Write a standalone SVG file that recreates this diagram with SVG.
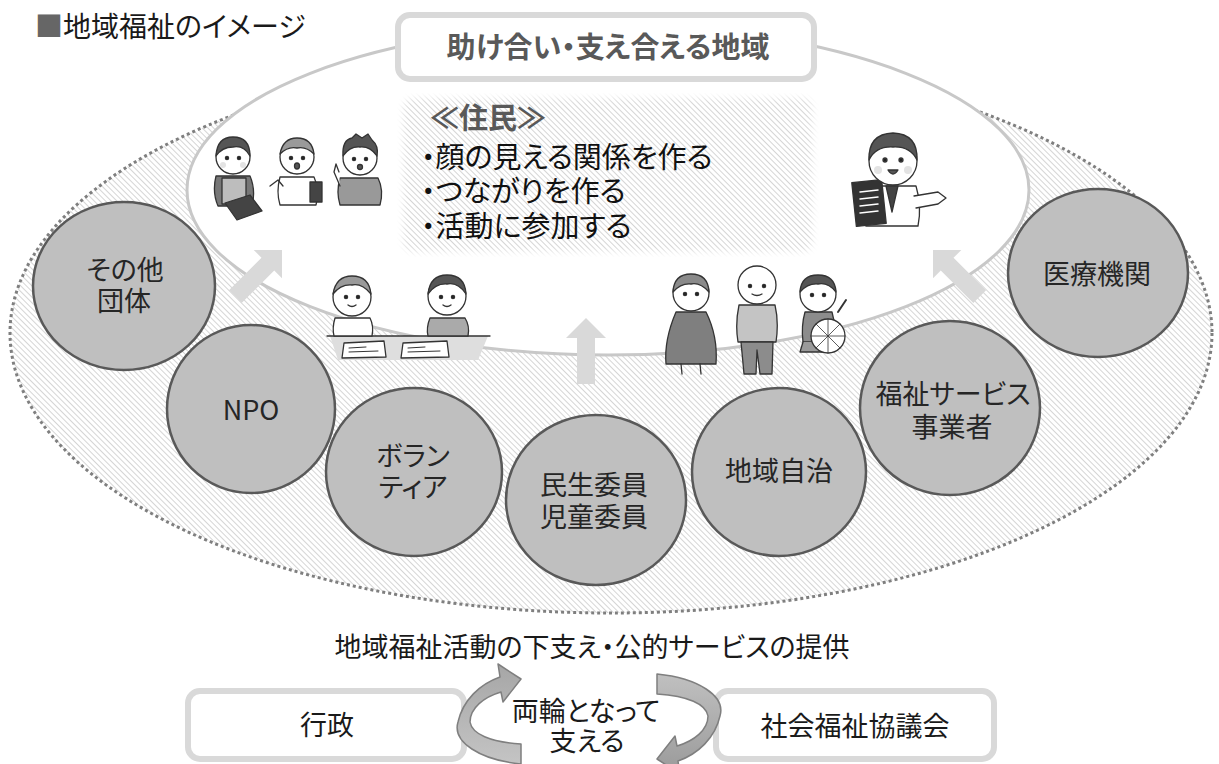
<svg xmlns="http://www.w3.org/2000/svg" width="1219" height="764" viewBox="0 0 1219 764">
  <defs>
    <style>
      text { font-family: "Noto Sans CJK JP", "Noto Sans", sans-serif; font-feature-settings: "palt"; }
      .circ { fill: #bfbfbf; stroke: #595959; stroke-width: 2.5; }
      .ctext { font-size: 27px; fill: #262626; text-anchor: middle; }
      .box { fill: #ffffff; stroke: #d9d9d9; stroke-width: 6; }
      .btext { font-size: 27px; fill: #1a1a1a; text-anchor: middle; }
      .rtext { font-size: 29px; fill: #111111; }
      .up { fill: #d9d9d9; }
      .ink { stroke: #333333; stroke-width: 1.3; stroke-linejoin: round; stroke-linecap: round; }
      .skin { fill: #ffffff; }
      .hair { fill: #555555; }
      .cheek { fill: #e3e3e3; }
      .eye { fill: #222222; }
    </style>
    <pattern id="hatch" patternUnits="userSpaceOnUse" width="4" height="4" patternTransform="rotate(-45)">
      <rect width="4" height="4" fill="#ffffff"/>
      <line x1="0" y1="0" x2="0" y2="4" stroke="#c4c4c4" stroke-width="1.4"/>
    </pattern>
    <filter id="soft" x="-10%" y="-10%" width="120%" height="120%">
      <feGaussianBlur stdDeviation="3"/>
    </filter>
    <mask id="softEdge">
      <rect x="403" y="98" width="410" height="154" rx="10" fill="#ffffff" filter="url(#soft)"/>
    </mask>
    <linearGradient id="ringL" x1="0" y1="0" x2="0" y2="1">
      <stop offset="0" stop-color="#a6a6a6"/>
      <stop offset="1" stop-color="#c4c4c4"/>
    </linearGradient>
    <linearGradient id="ringR" x1="0" y1="0" x2="0" y2="1">
      <stop offset="0" stop-color="#9a9a9a"/>
      <stop offset="1" stop-color="#c0c0c0"/>
    </linearGradient>
    <polygon id="blockArrow" points="0,0 20,20 9,20 9,66 -9,66 -9,20 -20,20"/>
  </defs>

  <rect width="1219" height="764" fill="#ffffff"/>

  <!-- title -->
  <text x="35" y="37" font-size="28" fill="#1a1a1a"><tspan fill="#666666">■</tspan>地域福祉のイメージ</text>

  <!-- outer community area (hatched, dotted rim) -->
  <g id="community">
    <ellipse cx="611" cy="333" rx="601" ry="280" fill="url(#hatch)" stroke="#7f7f7f" stroke-width="3" stroke-dasharray="3 3"/>
  </g>

  <!-- inner residents area -->
  <g id="residents">
    <ellipse cx="608" cy="190" rx="421" ry="165" fill="#ffffff" stroke="#c8c8c8" stroke-width="3"/>
    <rect x="397" y="93" width="422" height="164" fill="url(#hatch)" mask="url(#softEdge)"/>
    <text x="430" y="129" font-size="29" font-weight="bold" fill="#595959">≪住民≫</text>
    <text class="rtext" x="421" y="168">・顔の見える関係を作る</text>
    <text class="rtext" x="421" y="202">・つながりを作る</text>
    <text class="rtext" x="421" y="237">・活動に参加する</text>
  </g>

  <!-- headline box -->
  <g id="headline">
    <rect class="box" x="398" y="15" width="416" height="64" rx="12"/>
    <text x="608" y="58" font-size="29" font-weight="bold" fill="#595959" text-anchor="middle">助け合い・支え合える地域</text>
  </g>

  <!-- illustrations -->
  <g id="illustrations" class="ink">
    <!-- staff trio, upper left -->
    <g id="trio">
      <path d="M216 176 Q212 192 218 206 L252 206 Q256 190 250 176 Z" fill="#777777"/>
      <rect x="222" y="178" width="24" height="26" fill="#bdbdbd"/>
      <circle cx="233" cy="157" r="17" class="skin"/>
      <path d="M216 156 Q217 137 233 137 Q250 137 250 156 Q244 145 233 147 Q222 147 216 156 Z" class="hair"/>
      <circle cx="227" cy="158" r="1.6" class="eye"/><circle cx="239" cy="158" r="1.6" class="eye"/>
      <circle cx="223" cy="165" r="3" class="cheek" stroke="none"/><circle cx="243" cy="165" r="3" class="cheek" stroke="none"/>
      <path d="M225 203 L250 195 L262 211 L237 220 Z" fill="#444444"/>

      <path d="M280 177 Q276 192 280 205 L316 205 Q320 190 314 177 Z" fill="#ffffff"/>
      <circle cx="297" cy="157" r="17" class="skin"/>
      <path d="M280 154 Q283 138 297 138 Q312 138 314 154 Q306 146 297 148 Q288 146 280 154 Z" fill="#9a9a9a"/>
      <circle cx="291" cy="158" r="1.6" class="eye"/><circle cx="303" cy="158" r="1.6" class="eye"/>
      <ellipse cx="297" cy="166" rx="2.5" ry="3" fill="#555555"/>
      <rect x="310" y="182" width="12" height="20" fill="#444444"/>
      <path d="M270 186 L278 180 L283 186" fill="none"/>

      <path d="M340 178 Q336 192 340 205 L380 205 Q384 190 378 178 Z" fill="#999999"/>
      <circle cx="360" cy="158" r="17" class="skin"/>
      <path d="M343 156 Q342 140 352 138 L356 134 L362 138 L368 134 L372 140 Q379 146 377 156 Q370 146 360 147 Q350 146 343 156 Z" class="hair"/>
      <circle cx="354" cy="159" r="1.6" class="eye"/><circle cx="366" cy="159" r="1.6" class="eye"/>
      <ellipse cx="360" cy="167" rx="2.5" ry="2.5" fill="#555555"/>
      <path d="M340 186 L334 172 L336 164 L339 172" fill="#ffffff"/>
    </g>

    <!-- children at a table -->
    <g id="table">
      <path d="M330 336 L488 336 L478 360 L338 360 Z" fill="#dedede" stroke="none"/>
      <line x1="327" y1="336" x2="490" y2="336"/>
      <path d="M335 318 Q332 328 334 336 L372 336 Q374 326 370 318 Z" fill="#ffffff"/>
      <circle cx="352" cy="297" r="19" class="skin"/>
      <path d="M333 294 Q336 276 352 276 Q369 276 371 294 Q362 283 352 285 Q341 284 333 294 Z" fill="#9a9a9a"/>
      <circle cx="346" cy="297" r="1.6" class="eye"/><circle cx="358" cy="297" r="1.6" class="eye"/>
      <path d="M348 305 Q352 308 356 305" fill="none"/>
      <path d="M430 318 Q426 328 428 336 L468 336 Q470 326 465 318 Z" fill="#aaaaaa"/>
      <circle cx="447" cy="296" r="19" class="skin"/>
      <path d="M428 294 Q430 275 447 275 Q465 275 466 294 Q458 282 447 284 Q436 283 428 294 Z" class="hair"/>
      <circle cx="441" cy="297" r="1.6" class="eye"/><circle cx="453" cy="297" r="1.6" class="eye"/>
      <path d="M443 305 Q447 308 451 305" fill="none"/>
      <path d="M344 343 L384 341 L386 357 L342 358 Z" fill="#ffffff"/>
      <path d="M403 343 L447 341 L449 357 L401 358 Z" fill="#ffffff"/>
      <path d="M349 348 L366 347 M349 352 L378 351 M408 348 L425 347 M408 352 L440 351" fill="none" stroke-width="1"/>
    </g>

    <!-- residents group, lower right -->
    <g id="people">
      <path d="M676 312 Q664 340 666 364 L716 364 Q718 336 706 312 Z" fill="#7f7f7f"/>
      <path d="M681 364 L682 374 M700 364 L701 374" fill="none"/>
      <circle cx="691" cy="293" r="18" class="skin"/>
      <path d="M673 292 Q674 274 691 274 Q708 274 709 292 Q700 282 691 284 Q681 283 673 292 Z" fill="#8a8a8a"/>
      <circle cx="685" cy="294" r="1.6" class="eye"/><circle cx="697" cy="294" r="1.6" class="eye"/>

      <path d="M739 305 Q735 324 738 342 L776 342 Q779 322 775 305 Z" fill="#c4c4c4"/>
      <path d="M741 342 L744 374 L756 374 L757 350 L760 374 L772 374 L773 342 Z" fill="#8c8c8c"/>
      <circle cx="757" cy="285" r="19" class="skin"/>
      <circle cx="750" cy="286" r="1.6" class="eye"/><circle cx="764" cy="286" r="1.6" class="eye"/>
      <path d="M752 294 Q757 297 762 294" fill="none"/>

      <path d="M805 312 Q801 326 803 342 L834 342 Q836 326 832 312 Z" fill="#8c8c8c"/>
      <path d="M803 342 L800 352 L823 352 L826 342" fill="#9a9a9a"/>
      <circle cx="828" cy="336" r="17" fill="#ffffff"/>
      <path d="M828 319 L828 353 M811 336 L845 336 M816 324 L840 348 M840 324 L816 348" fill="none" stroke-width="0.8"/>
      <path d="M838 312 L846 300" fill="none" stroke-width="2"/>
      <circle cx="818" cy="294" r="18" class="skin"/>
      <path d="M800 292 Q801 275 818 275 Q835 275 836 292 Q828 282 818 284 Q808 283 800 292 Z" class="hair"/>
      <circle cx="812" cy="295" r="1.6" class="eye"/><circle cx="824" cy="295" r="1.6" class="eye"/>
    </g>

    <!-- doctor, upper right -->
    <g id="doctor">
      <path d="M868 186 Q862 206 866 226 L918 226 Q922 206 916 186 Z" fill="#ffffff"/>
      <path d="M886 186 L892 212 L898 186 Z" fill="#444444"/>
      <path d="M914 196 L938 192 L946 198 L938 204 L916 208" fill="#ffffff"/>
      <rect x="854" y="181" width="30" height="44" fill="#333333" transform="rotate(-6 869 203)"/>
      <path d="M860 192 L878 190 M860 199 L878 197 M860 206 L878 204 M860 213 L878 211" fill="none" stroke="#ffffff" stroke-width="1.5"/>
      <circle cx="893" cy="161" r="24" class="skin"/>
      <path d="M869 160 Q868 134 893 133 Q918 134 917 160 Q910 146 893 147 Q876 146 869 160 Z" class="hair"/>
      <circle cx="885" cy="160" r="2" class="eye"/><circle cx="901" cy="160" r="2" class="eye"/>
      <circle cx="878" cy="170" r="4" class="cheek" stroke="none"/><circle cx="908" cy="170" r="4" class="cheek" stroke="none"/>
      <path d="M888 170 Q893 178 898 170 Z" fill="#555555"/>
    </g>
  </g>

  <!-- arrows from the groups into the residents area -->
  <g id="connectors">
    <use href="#blockArrow" class="up" transform="translate(282 250) rotate(45)"/>
    <use href="#blockArrow" class="up" transform="translate(586 318)"/>
    <use href="#blockArrow" class="up" transform="translate(933 250) rotate(-45)"/>
  </g>

  <!-- participating groups -->
  <g id="other-groups">
    <ellipse class="circ" cx="124" cy="286" rx="91" ry="84"/>
    <text class="ctext" x="125" y="280">その他</text>
    <text class="ctext" x="124" y="311">団体</text>
  </g>
  <g id="npo">
    <ellipse class="circ" cx="251" cy="409" rx="84" ry="84"/>
    <text class="ctext" x="251" y="420" font-size="30">NPO</text>
  </g>
  <g id="volunteer">
    <ellipse class="circ" cx="414" cy="472" rx="88" ry="84"/>
    <text class="ctext" x="413" y="466">ボラン</text>
    <text class="ctext" x="413" y="497">ティア</text>
  </g>
  <g id="commissioners">
    <ellipse class="circ" cx="596" cy="500" rx="90" ry="85"/>
    <text class="ctext" x="594" y="495">民生委員</text>
    <text class="ctext" x="594" y="527">児童委員</text>
  </g>
  <g id="self-government">
    <ellipse class="circ" cx="779" cy="472" rx="87" ry="84"/>
    <text class="ctext" x="779" y="481">地域自治</text>
  </g>
  <g id="welfare-providers">
    <ellipse class="circ" cx="950" cy="408" rx="90" ry="87"/>
    <text class="ctext" x="953" y="404">福祉サービス</text>
    <text class="ctext" x="952" y="437">事業者</text>
  </g>
  <g id="medical">
    <ellipse class="circ" cx="1098" cy="273" rx="90" ry="84"/>
    <text class="ctext" x="1097" y="284">医療機関</text>
  </g>

  <!-- support base -->
  <text class="btext" x="592" y="657">地域福祉活動の下支え・公的サービスの提供</text>

  <g id="government">
    <rect class="box" x="188" y="691" width="276" height="68" rx="12"/>
    <text class="btext" x="327" y="735">行政</text>
  </g>
  <g id="council">
    <rect class="box" x="716" y="691" width="278" height="68" rx="12"/>
    <text class="btext" x="855" y="736">社会福祉協議会</text>
  </g>

  <g id="cycle">
    <path d="M521 764 C480 760 452 742 458 722 C463 700 480 684 500 677 L498 664 L521 679 L503 702 L501 692 C484 697 470 708 470 722 C472 734 490 742 521 744 Z" fill="url(#ringL)" stroke="#7f7f7f" stroke-width="1.5" stroke-linejoin="round"/>
    <path d="M521 764 C480 760 452 742 458 722 C463 700 480 684 500 677 L498 664 L521 679 L503 702 L501 692 C484 697 470 708 470 722 C472 734 490 742 521 744 Z" fill="url(#ringR)" stroke="#7f7f7f" stroke-width="1.5" stroke-linejoin="round" transform="rotate(180 589 719)"/>
    <text class="btext" x="586" y="721">両輪となって</text>
    <text class="btext" x="587" y="751">支える</text>
  </g>
</svg>
